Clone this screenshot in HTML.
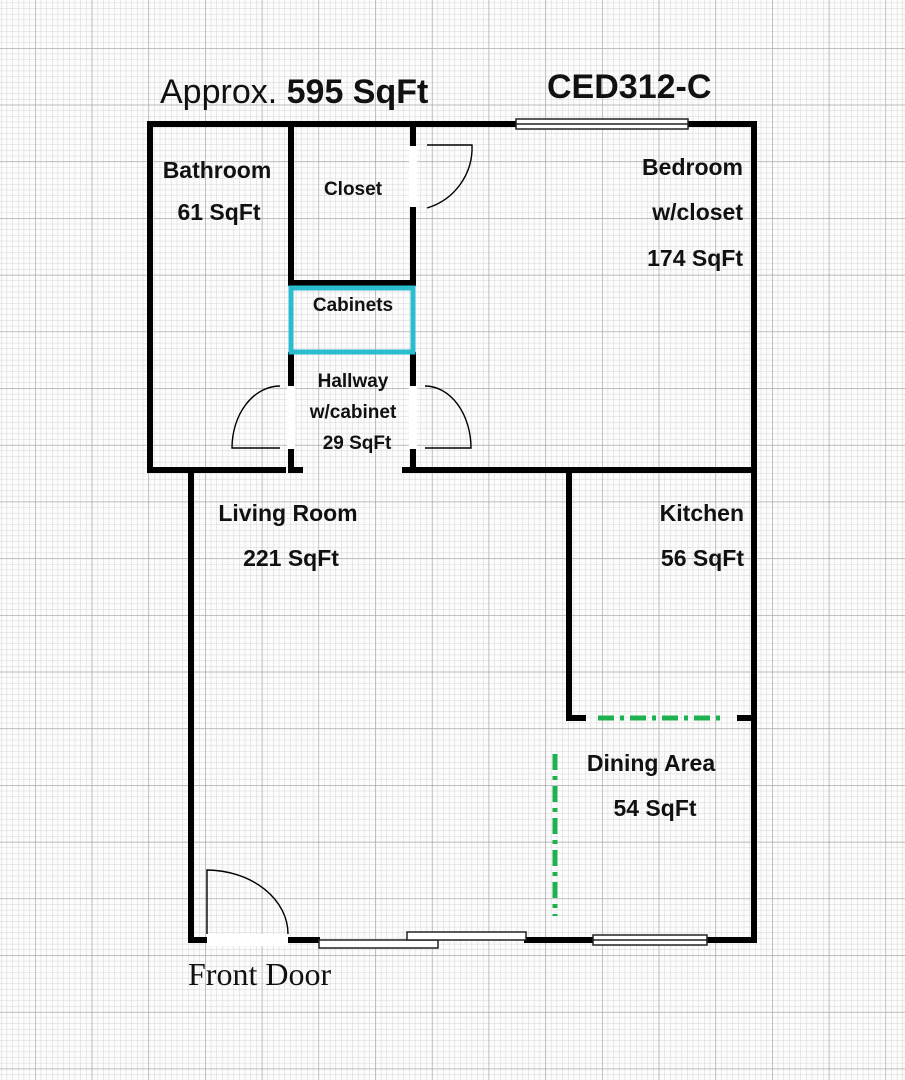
<!DOCTYPE html>
<html><head><meta charset="utf-8"><style>
html,body{margin:0;padding:0;background:#fff;}
svg{display:block;}
text{font-family:"Liberation Sans",sans-serif;fill:#111;}
</style></head><body>
<svg width="905" height="1080" viewBox="0 0 905 1080" xmlns="http://www.w3.org/2000/svg">
<defs>
<pattern id="minor" x="35" y="48" width="5.67" height="5.67" patternUnits="userSpaceOnUse">
<path d="M0 0H5.67M0 0V5.67" stroke="#d4d4d4" stroke-width="1" fill="none"/>
</pattern>
<pattern id="major" x="35" y="48" width="56.7" height="56.7" patternUnits="userSpaceOnUse">
<path d="M0 0H56.7M0 0V56.7" stroke="#a0a0a0" stroke-width="1.2" fill="none"/>
</pattern>
</defs>
<rect width="905" height="1080" fill="#fcfcfc"/>
<rect width="905" height="1080" fill="url(#minor)"/>
<rect width="905" height="1080" fill="url(#major)"/>

<g stroke="#000" stroke-width="6" fill="none" stroke-linecap="square">
<path d="M150 124H754V940"/>
<path d="M150 124V470H283"/>
<path d="M291 124V283H413"/>
<path d="M413 124V145M413 208V283"/>
<path d="M291 355V384M291 450V470M291 470H300"/>
<path d="M413 355V384M413 450V470M405 470H754"/>
<path d="M569 470V718H583M740 718H754"/>
<path d="M191 470V940H207M288 940H317M527 940H593M707 940H754"/>
</g>
<g fill="#fff">
<rect x="409" y="146" width="8" height="61"/>
<rect x="287" y="386" width="8" height="63"/>
<rect x="409" y="386" width="8" height="63"/>
<rect x="207" y="934" width="81" height="12"/>
</g>
<rect x="291" y="288" width="122" height="64" fill="none" stroke="#2bbcd0" stroke-width="5"/>
<g stroke="#000" stroke-width="1.4" fill="none">
<path d="M427 145H472A63 63 0 0 1 427 208"/>
<path d="M280 386A48 62 0 0 0 232 448H280"/>
<path d="M425 386A46 62 0 0 1 471 448H425"/>
<path d="M207 934V870A82 64 0 0 1 288 934"/>
</g>
<g stroke="#222" stroke-width="1.5" fill="#fff">
<rect x="516" y="119" width="172" height="10"/>
<line x1="516" y1="124" x2="688" y2="124"/>
<rect x="319" y="940" width="119" height="8"/>
<rect x="407" y="932" width="119" height="8"/>
<rect x="593" y="935" width="114" height="10"/>
<line x1="593" y1="940" x2="707" y2="940"/>
</g>
<g stroke="#1fb150" stroke-width="5" fill="none">
<line x1="598" y1="718" x2="725" y2="718" stroke-dasharray="16 6 4 6"/>
<line x1="555" y1="754" x2="555" y2="916" stroke-dasharray="16 6 4 6"/>
</g>

<text x="160" y="103" font-size="34">Approx. <tspan font-weight="bold">595 SqFt</tspan></text>
<text x="547" y="98" font-size="34" font-weight="bold">CED312-C</text>

<g font-size="23" font-weight="bold">
<text x="217" y="178" text-anchor="middle">Bathroom</text>
<text x="219" y="220" text-anchor="middle">61 SqFt</text>
<text x="743" y="175" text-anchor="end">Bedroom</text>
<text x="743" y="220" text-anchor="end">w/closet</text>
<text x="743" y="266" text-anchor="end">174 SqFt</text>
<text x="288" y="521" text-anchor="middle">Living Room</text>
<text x="291" y="566" text-anchor="middle">221 SqFt</text>
<text x="744" y="521" text-anchor="end">Kitchen</text>
<text x="744" y="566" text-anchor="end">56 SqFt</text>
<text x="651" y="771" text-anchor="middle">Dining Area</text>
<text x="655" y="816" text-anchor="middle">54 SqFt</text>
</g>
<g font-size="19" font-weight="bold">
<text x="353" y="195" text-anchor="middle">Closet</text>
<text x="353" y="311" text-anchor="middle">Cabinets</text>
<text x="353" y="387" text-anchor="middle">Hallway</text>
<text x="353" y="418" text-anchor="middle">w/cabinet</text>
<text x="357" y="449" text-anchor="middle">29 SqFt</text>
</g>
<text x="188" y="985" font-size="32" style="font-family:'Liberation Serif',serif">Front Door</text>
</svg>
</body></html>
